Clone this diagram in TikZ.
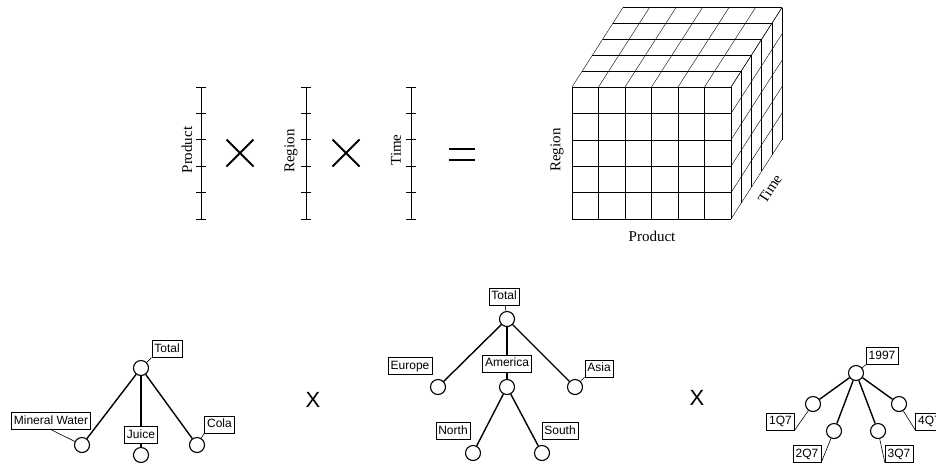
\documentclass[tikz,border=0pt]{standalone}
\usepackage{fontspec}
\setmainfont{Liberation Serif}
\newfontfamily\labelfont{Liberation Sans}
\usetikzlibrary{calc}

\begin{document}
\begin{tikzpicture}[x=1pt, y=-1pt, font=\fontsize{15}{18}\selectfont,
    simpul/.style={circle, draw, line width=1.1pt, minimum size=15pt, inner sep=0pt},
    kotak/.style={draw, line width=0.6pt, font=\labelfont\fontsize{12}{14}\selectfont,
      text height=9pt, text depth=2.5pt, inner xsep=2.5pt, inner ysep=2.6pt},
    cabang/.style={line width=1.4pt},
    penunjuk/.style={line width=0.6pt},
    kali/.style={font=\labelfont\fontsize{22}{24}\selectfont}]
    \useasboundingbox (0,0) rectangle (936,464);
    % sumbu dimensi
    \foreach \x in {201,306,411} {
      \draw[line width=0.9pt] (\x,87) -- (\x,219);
      \foreach \k in {0,...,5}
        \draw[line width=0.9pt] (\x-5,87+26.4*\k) -- (\x+5,87+26.4*\k);
    }
    \node[rotate=90] (sbProduct) at (187,150) {Product};
    \node[rotate=90] (sbRegion) at (291,151) {Region};
    \node[rotate=90] (sbTime) at (396,150) {Time};
    \foreach \x in {240,346}
      \draw[line width=1.8pt] (\x-13.5,139.5) -- (\x+13.5,166.5) (\x-13.5,166.5) -- (\x+13.5,139.5);
    \draw[line width=1.8pt] (449,149) -- (475,149) (449,160) -- (475,160);
    % kubus
    \foreach \i in {0,...,6} {
      \draw (572+26.5*\i,87) -- (572+26.5*\i,219);
      \draw (572+26.5*\i,87) -- ++(51,-79.5);
    }
    \foreach \j in {0,...,5} {
      \draw (572,87+26.4*\j) -- (731,87+26.4*\j);
      \draw (731,87+26.4*\j) -- ++(51,-79.5);
    }
    \foreach \k in {1,...,5} {
      \draw (572+10.2*\k,87-15.9*\k) -- (731+10.2*\k,87-15.9*\k);
      \draw (731+10.2*\k,87-15.9*\k) -- ++(0,132);
    }
    \node[rotate=90] (kbRegion) at (557,150) {Region};
    \node (kbProduct) at (652,236) {Product};
    \node[rotate=57] (kbTime) at (770,189) {Time};
    % pohon produk
    \node[simpul] (cTotalP) at (141,368) {};
    \node[simpul] (cMineral) at (82,445) {};
    \node[simpul] (cJuice) at (141,455) {};
    \node[simpul] (cCola) at (197,445) {};
    \node[kotak] (lTotalP) at (167,349) {Total};
    \node[kotak] (lMineral) at (51,421) {Mineral Water};
    \node[kotak] (lJuice) at (141,435) {Juice};
    \node[kotak] (lCola) at (219.5,424.5) {Cola};
    \draw[cabang] (cTotalP) -- (cMineral);
    \draw[cabang] (cTotalP) -- (lJuice);
    \draw[cabang] (lJuice) -- (cJuice);
    \draw[cabang] (cTotalP) -- (cCola);
    \draw[penunjuk] (lTotalP.south west) -- (cTotalP);
    \draw[penunjuk] (lMineral.south) -- (cMineral);
    \draw[penunjuk] (lCola.south west) -- (cCola);
    \node[kali] (kali1) at (313,400) {X};
    % pohon region
    \node[simpul] (cTotalR) at (507,319) {};
    \node[simpul] (cEurope) at (438,387) {};
    \node[simpul] (cAmerica) at (507,387) {};
    \node[simpul] (cAsia) at (575,387) {};
    \node[simpul] (cNorth) at (473,453) {};
    \node[simpul] (cSouth) at (542,453) {};
    \node[kotak] (lTotalR) at (504,296.5) {Total};
    \node[kotak] (lEurope) at (410,366) {Europe};
    \node[kotak] (lAmerica) at (507,363.5) {America};
    \node[kotak] (lAsia) at (599,368.5) {Asia};
    \node[kotak] (lNorth) at (453,431) {North};
    \node[kotak] (lSouth) at (560,431) {South};
    \draw[cabang] (cTotalR) -- (cEurope);
    \draw[cabang] (cTotalR) -- (lAmerica);
    \draw[cabang] (lAmerica) -- (cAmerica);
    \draw[cabang] (cTotalR) -- (cAsia);
    \draw[cabang] (cAmerica) -- (cNorth);
    \draw[cabang] (cAmerica) -- (cSouth);
    \draw[penunjuk] (lTotalR) -- (cTotalR);
    \draw[penunjuk] (lAsia.south west) -- (cAsia);
    \node[kali] (kali2) at (697,398) {X};
    % pohon waktu
    \node[simpul] (c1997) at (856,373) {};
    \node[simpul] (cQ1) at (813,404) {};
    \node[simpul] (cQ2) at (834,431) {};
    \node[simpul] (cQ3) at (878,431) {};
    \node[simpul] (cQ4) at (899,404) {};
    \node[kotak] (l1997) at (882,356) {1997};
    \node[kotak] (lQ1) at (780.5,421.5) {1Q7};
    \node[kotak] (lQ2) at (807,454) {2Q7};
    \node[kotak] (lQ3) at (899,454) {3Q7};
    \node[kotak] (lQ4) at (929.5,421.5) {4Q7};
    \foreach \q in {cQ1,cQ2,cQ3,cQ4}
      \draw[cabang] (c1997) -- (\q);
    \draw[penunjuk] (l1997.south west) -- (c1997);
    \draw[penunjuk] (lQ1.south east) -- (cQ1);
    \draw[penunjuk] (lQ2.south east) -- (cQ2);
    \draw[penunjuk] (lQ3.south west) -- (cQ3);
    \draw[penunjuk] (lQ4.south west) -- (cQ4);
  \end{tikzpicture}
\end{document}
